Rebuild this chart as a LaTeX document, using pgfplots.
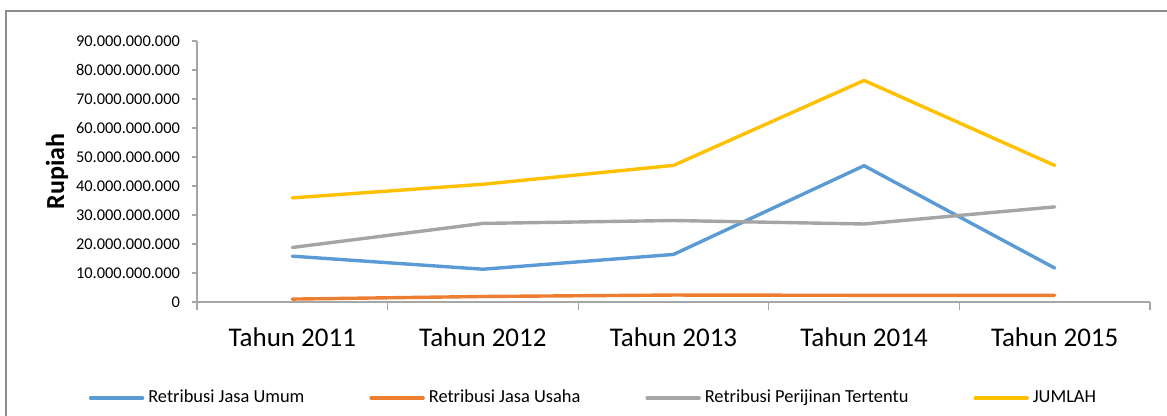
\documentclass[border=0pt]{standalone}
\usepackage{fontspec}
\setmainfont{Carlito}
\usepackage{pgfplots}
\pgfplotsset{compat=1.18}

\definecolor{cUmum}{HTML}{5B9BD5}
\definecolor{cUsaha}{HTML}{ED7D31}
\definecolor{cIzin}{HTML}{A5A5A5}
\definecolor{cJml}{HTML}{FFC000}
\definecolor{axgray}{HTML}{A6A6A6}
\definecolor{framegray}{HTML}{8C8C8C}

\begin{document}
\begin{tikzpicture}
% page = 1167 x 416 px at 0.5pt per px
\useasboundingbox (0,0) rectangle (583.5pt,208pt);
\draw[framegray, line width=0.6pt] (3pt,-2pt) -- (3pt,202.5pt) -- (590pt,202.5pt);
\begin{axis}[
    at={(98.5pt,57pt)}, anchor=south west,
    scale only axis,
    width=476.5pt, height=130.5pt,
    xmin=-0.5, xmax=4.5,
    ymin=0, ymax=90000000000,
    ytick={0,10000000000,...,90000000000},
    scaled y ticks=false,
    yticklabel style={font=\fontsize{8.2}{9}\selectfont, xshift=-2.5pt, /pgf/number format/.cd, fixed, precision=0, 1000 sep={.}, assume math mode=true},
    xtick={0,1,2,3,4},
    xticklabels={Tahun 2011, Tahun 2012, Tahun 2013, Tahun 2014, Tahun 2015},
    xticklabel style={font=\fontsize{13.5}{15}\selectfont, yshift=-7pt},
    minor xtick={-0.5,0.5,...,4.5},
    major x tick style={draw=none},
    tick align=outside,
    minor tick length=4pt,
    major tick length=2.5pt,
    every tick/.style={axgray, line width=0.6pt},
    axis x line*=bottom, axis y line*=left,
    axis line style={axgray, line width=0.6pt, -},
    ylabel={\textbf{Rupiah}},
    ylabel style={font=\fontsize{13}{15}\selectfont, at={(axis description cs:-0.1469,0.5)}, anchor=center, rotate=0},
    legend columns=4,
    legend style={draw=none, fill=none, font=\fontsize{9.2}{11}\selectfont,
        at={(axis description cs:0.4171,-0.368)}, anchor=center,
        nodes={inner xsep=2pt},
        /tikz/every even column/.append style={column sep=30.5pt}},
    legend image code/.code={\draw[#1, line width=1.7pt, line cap=round] (0pt,0pt) -- (26pt,0pt);},
    every axis plot/.append style={line width=1.7pt, line cap=round, line join=round, mark=none},
]
\addplot[cUmum] coordinates {(0,15.8e9) (1,11.3e9) (2,16.4e9) (3,47.0e9) (4,11.7e9)};
\addplot[cUsaha] coordinates {(0,1.0e9) (1,1.9e9) (2,2.4e9) (3,2.3e9) (4,2.3e9)};
\addplot[cIzin] coordinates {(0,18.8e9) (1,27.1e9) (2,28.1e9) (3,26.9e9) (4,32.8e9)};
\addplot[cJml] coordinates {(0,35.9e9) (1,40.6e9) (2,47.1e9) (3,76.4e9) (4,47.1e9)};
\legend{Retribusi Jasa Umum, Retribusi Jasa Usaha, Retribusi Perijinan Tertentu, JUMLAH}
\end{axis}
\end{tikzpicture}
\end{document}
